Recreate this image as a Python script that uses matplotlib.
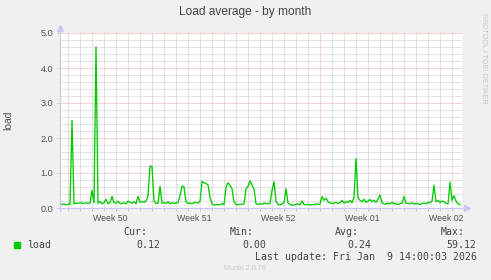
import matplotlib.pyplot as plt
import numpy as np

# munin "load" graph, one sample every 4 hours, time in days relative to Mon Jan 5 00:00
sample_start_day = -28.69
sample_step_day = 1 / 6
load = [
    0.10, 0.10, 0.12, 0.09, 0.11, 0.10, 2.50, 0.12, 0.14, 0.13,
    0.15, 0.14, 0.13, 0.15, 0.13, 0.14, 0.50, 0.15, 4.60, 0.14,
    0.18, 0.12, 0.15, 0.25, 0.12, 0.16, 0.33, 0.15, 0.14, 0.20,
    0.12, 0.13, 0.15, 0.12, 0.20, 0.16, 0.14, 0.18, 0.12, 0.33,
    0.17, 0.18, 0.16, 0.20, 0.35, 1.20, 1.18, 0.20, 0.13, 0.14,
    0.62, 0.14, 0.15, 0.13, 0.18, 0.12, 0.15, 0.13, 0.14, 0.16,
    0.35, 0.63, 0.60, 0.18, 0.13, 0.14, 0.12, 0.15, 0.16, 0.14,
    0.20, 0.76, 0.72, 0.70, 0.66, 0.30, 0.12, 0.08, 0.10, 0.09,
    0.10, 0.12, 0.10, 0.60, 0.72, 0.65, 0.55, 0.18, 0.10, 0.09,
    0.11, 0.10, 0.12, 0.55, 0.62, 0.77, 0.65, 0.55, 0.12, 0.10,
    0.12, 0.11, 0.14, 0.13, 0.12, 0.13, 0.50, 0.75, 0.20, 0.10,
    0.09, 0.11, 0.15, 0.55, 0.14, 0.10, 0.08, 0.09, 0.10, 0.12,
    0.09, 0.20, 0.10, 0.09, 0.11, 0.08, 0.10, 0.09, 0.12, 0.10,
    0.11, 0.33, 0.22, 0.28, 0.18, 0.15, 0.12, 0.14, 0.16, 0.13,
    0.15, 0.22, 0.14, 0.18, 0.16, 0.22, 0.15, 0.30, 1.41, 0.30,
    0.22, 0.18, 0.25, 0.16, 0.20, 0.24, 0.18, 0.22, 0.16, 0.25,
    0.37, 0.15, 0.12, 0.11, 0.14, 0.12, 0.16, 0.13, 0.12, 0.10,
    0.12, 0.14, 0.33, 0.14, 0.13, 0.12, 0.15, 0.11, 0.13, 0.12,
    0.10, 0.13, 0.14, 0.12, 0.16, 0.15, 0.20, 0.65, 0.18, 0.22,
    0.15, 0.20, 0.18, 0.13, 0.12, 0.74, 0.22, 0.35, 0.20, 0.12,
    0.10,
]
week_starts = [-28, -21, -14, -7, 0]
week_labels = ['Week 50', 'Week 51', 'Week 52', 'Week 01', 'Week 02']
legend_stats = {'Cur:': '0.12', 'Min:': '0.00', 'Avg:': '0.24', 'Max:': '59.12'}
last_update = 'Last update: Fri Jan  9 14:00:03 2026'

BG = '#f0f0f0'
GREEN = '#00cc00'
MAJOR = '#f0a8a8'
MINOR = '#c8c8c8'
AXIS = '#c8c8f8'
TXT = '#555555'

W, H = 491, 280
fig = plt.figure(figsize=(W / 100, H / 100), dpi=100, facecolor=BG)
ax = fig.add_axes([60 / W, 72 / H, 402 / W, 175 / H])
ax.set_facecolor('white')

x_left, x_right = (60 - 404.3) / 12, (462 - 404.3) / 12
ax.set_xlim(x_left, x_right)
ax.set_ylim(0, 5)

# grid (dotted, munin style)
dots = (0, (1, 1))
for v in np.arange(0.2, 5.01, 0.2):
    major = abs(v - round(v)) < 1e-6
    ax.axhline(v, color=MAJOR if major else MINOR, lw=0.72, ls=dots, zorder=1)
for d in range(-28, 5):
    ax.axvline(d, color=MAJOR if d % 7 == 0 else MINOR, lw=0.72, ls=dots, zorder=1)

t = sample_start_day + np.arange(len(load)) * sample_step_day
ax.plot(t, load, color=GREEN, lw=0.95, zorder=3)

for s in ax.spines.values():
    s.set_visible(False)

# axes with arrows
ax.plot([0, 0], [-0.015, 1.02], color=AXIS, lw=0.8, transform=ax.transAxes, clip_on=False, zorder=4)
ax.plot([-0.008, 1.005], [0, 0], color=AXIS, lw=0.8, transform=ax.transAxes, clip_on=False, zorder=4)
ax.plot([0], [1.03], marker='^', ms=4, color=AXIS, transform=ax.transAxes, clip_on=False)
ax.plot([1.012], [0], marker='>', ms=4, color=AXIS, transform=ax.transAxes, clip_on=False)

# y ticks
ax.set_yticks(np.arange(0, 5.01, 1.0))
ax.set_yticklabels([f'{v:.1f}' for v in np.arange(0, 5.01, 1.0)])
ax.tick_params(axis='y', length=2, width=0.6, color=MINOR, pad=3,
               labelsize=6.6, labelcolor=TXT)
# x ticks: week labels in mid-week, day tick marks as minor ticks
ax.set_xticks([w + 3.5 for w in week_starts])
ax.set_xticklabels(week_labels)
ax.set_xticks(range(-28, 5), minor=True)
ax.tick_params(axis='x', which='major', length=0, pad=4, labelsize=6.3, labelcolor=TXT)
ax.tick_params(axis='x', which='minor', length=2, width=0.6, color=MAJOR)
for lab in ax.get_xticklabels() + ax.get_yticklabels():
    lab.set_family('Liberation Sans')

ax.set_ylabel('load', fontsize=7.5, color=TXT, family='Liberation Sans', labelpad=0)
ax.yaxis.set_label_coords(-46.5 / 402, 0.5)

fig.text(245.5 / W, 1 - 11.5 / H, 'Load average - by month', ha='center', va='center',
         fontsize=8.6, color='#444444', family='Liberation Sans')
fig.text(484 / W, 1 - 13 / H, 'RRDTOOL / TOBI OETIKER', rotation=270, ha='center', va='top',
         fontsize=5.1, color='#c8c8c8', family='Liberation Sans')

# legend block
mono = dict(family='DejaVu Sans Mono', fontsize=7.1, color='#444444', va='center')
fig.patches.append(plt.Rectangle((14 / W, 1 - 247.7 / H), 5.5 / W, 5.5 / H,
                                 transform=fig.transFigure, color=GREEN))
fig.text(27 / W, 1 - 245 / H, 'load', ha='left', **mono)
head_x = [147.7, 254, 359, 464.3]
val_x = [160.3, 266.7, 371.7, 476.7]
for (k, v), hx, vx in zip(legend_stats.items(), head_x, val_x):
    fig.text(hx / W, 1 - 232.3 / H, k, ha='right', **mono)
    fig.text(vx / W, 1 - 245 / H, v, ha='right', **mono)
fig.text(476.7 / W, 1 - 257 / H, last_update, ha='right', **mono)
fig.text(245 / W, 1 - 268.3 / H, 'Munin 2.0.76', ha='center', va='center',
         fontsize=5.2, color='#c8c8c8', family='Liberation Sans')

fig.savefig('out.png', dpi=100, facecolor=BG)
